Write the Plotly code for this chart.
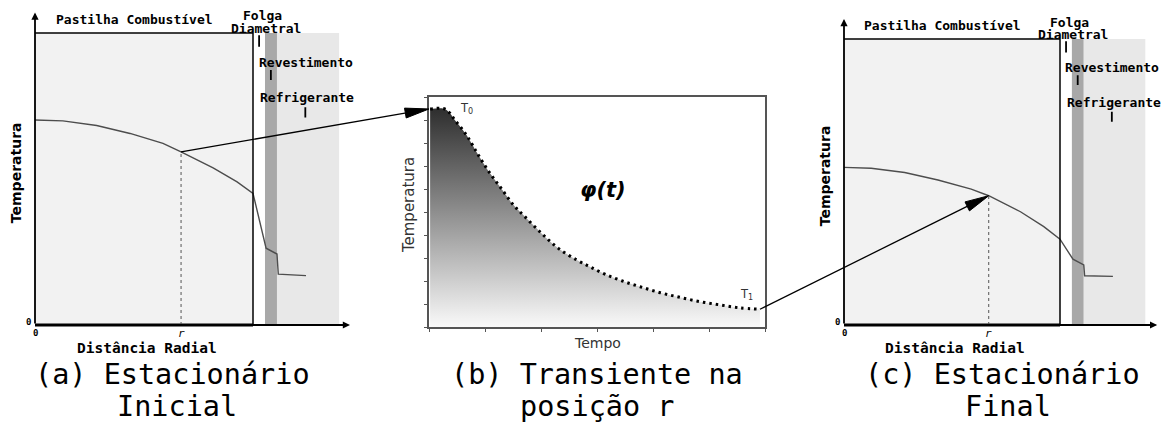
import math
import plotly.graph_objects as go

W, H = 1165, 429

# ---------------------------------------------------------------------------
# Data
# ---------------------------------------------------------------------------
# Radial layout of the fuel rod (arbitrary units, pellet radius = 10)
R_FUEL = 10.0
R_GAP = 10.55
R_CLAD = 11.1
R_COOL = 13.95
R_PROBE = 6.7
REGION_TOP = 100.0

# Initial steady-state temperature profile
radius_init = [0.0, 1.28, 2.83, 4.36, 5.87, 6.7, 8.17, 9.27, 10.0, 10.6, 11.1, 11.16, 12.43]
temp_init = [70.2, 69.9, 68.3, 65.6, 62.2, 59.3, 53.8, 49.0, 45.1, 26.3, 24.3, 17.4, 16.9]

# Final steady-state temperature profile
radius_final = [0.0, 1.26, 2.81, 4.35, 5.89, 6.7, 8.17, 9.25, 10.0, 10.6, 11.1, 11.14, 12.45]
temp_final = [55.1, 54.8, 53.3, 50.7, 47.5, 45.2, 39.6, 34.4, 30.0, 23.0, 21.0, 17.2, 17.0]

# Transient phi(t) at radial position r
time_tr = [0.02, 0.2, 0.29, 0.375, 0.46, 0.58, 0.70, 0.88, 1.09, 1.30, 1.51, 1.71,
           2.01, 2.31, 2.64, 2.88, 3.14, 3.44, 3.77, 4.13, 4.48, 4.84, 5.20, 5.55, 5.91]
temp_tr = [9.48, 9.51, 9.47, 9.29, 9.0, 8.64, 8.23, 7.48, 6.68, 5.99, 5.30, 4.80,
           4.07, 3.42, 2.91, 2.61, 2.30, 2.01, 1.75, 1.49, 1.29, 1.10, 0.96, 0.83, 0.77]

# Region labels and their marker ticks
region_labels = ["Pastilha Combustível", "Folga", "Diametral", "Revestimento", "Refrigerante"]
region_label_x = [4.55, 10.45, 10.6, 12.43, 12.48]
region_label_y = [104.6, 105.9, 101.7, 89.9, 77.8]
marker_x = [10.28, 10.82, 12.4]
marker_y0 = [95.3, 83.9, 71.1]
marker_y1 = [99.2, 87.3, 74.6]

captions = [["(a) Estacionário", "Inicial"],
            ["(b) Transiente na", "posição r"],
            ["(c) Estacionário", "Final"]]

# ---------------------------------------------------------------------------
# Panel geometry: origin pixel, pixels per unit, axis ranges
# ---------------------------------------------------------------------------
PANEL_A = dict(ox=35, oy=325, sx=21.8, sy=2.92, xr=(-0.4, 14.45), yr=(-3, 107))
PANEL_B = dict(ox=429, oy=327, sx=56.0, sy=23.0, xr=(0, 6), yr=(0, 10))
PANEL_C = dict(ox=844, oy=325, sx=21.6, sy=2.86, xr=(-0.4, 14.5), yr=(-3, 107))


def domains(p):
    x0 = p["ox"] + p["xr"][0] * p["sx"]
    x1 = p["ox"] + p["xr"][1] * p["sx"]
    yb = p["oy"] - p["yr"][0] * p["sy"]
    yt = p["oy"] - p["yr"][1] * p["sy"]
    return [x0 / W, x1 / W], [1 - yb / H, 1 - yt / H]


def to_px(p, x, y):
    return p["ox"] + x * p["sx"], p["oy"] - y * p["sy"]


def value_at(xs, ys, x):
    for i in range(len(xs) - 1):
        if xs[i] <= x <= xs[i + 1]:
            t = (x - xs[i]) / (xs[i + 1] - xs[i])
            return ys[i] + t * (ys[i + 1] - ys[i])
    return ys[-1]


fig = go.Figure()
shapes = []
annotations = []

MONO = "DejaVu Sans Mono"
SANS = "DejaVu Sans"


def steady_panel(ax_id, panel, radius, temp):
    xa = "x" if ax_id == 1 else f"x{ax_id}"
    ya = "y" if ax_id == 1 else f"y{ax_id}"

    def rect(x0, x1, color):
        shapes.append(dict(type="rect", xref=xa, yref=ya, x0=x0, x1=x1, y0=0, y1=REGION_TOP,
                           fillcolor=color, line=dict(width=0), layer="below"))

    def seg(x0, y0, x1, y1, width, color="black", dash="solid"):
        shapes.append(dict(type="line", xref=xa, yref=ya, x0=x0, y0=y0, x1=x1, y1=y1,
                           line=dict(color=color, width=width, dash=dash)))

    rect(0, R_FUEL, "#f2f2f2")
    rect(R_GAP, R_CLAD, "#a8a8a8")
    rect(R_CLAD, R_COOL, "#e8e8e8")
    seg(0, REGION_TOP, R_FUEL, REGION_TOP, 1.5)
    seg(R_FUEL, 0, R_FUEL, REGION_TOP, 1.5)
    seg(0, 0, R_FUEL, 0, 3)

    t_probe = value_at(radius, temp, R_PROBE)
    seg(R_PROBE, 0, R_PROBE, t_probe, 1, color="#555555", dash="dot")

    for mx, m0, m1 in zip(marker_x, marker_y0, marker_y1):
        seg(mx, m0, mx, m1, 1.8)

    fig.add_trace(go.Scatter(x=radius, y=temp, mode="lines", xaxis=xa, yaxis=ya,
                             line=dict(color="#4d4d4d", width=1.4), hoverinfo="skip"))

    # axis arrows
    for (hx, hy) in [(panel["xr"][1], 0), (0, panel["yr"][1])]:
        annotations.append(dict(xref=xa, yref=ya, axref=xa, ayref=ya, x=hx, y=hy, ax=0, ay=0,
                                text="", showarrow=True, arrowhead=2, arrowsize=0.8,
                                arrowwidth=1.8, arrowcolor="black"))

    for txt, lx, ly in zip(region_labels, region_label_x, region_label_y):
        annotations.append(dict(xref=xa, yref=ya, x=lx, y=ly, text=f"<b>{txt}</b>",
                                showarrow=False, xanchor="center", yanchor="middle",
                                font=dict(family=MONO, size=13, color="black")))

    annotations.append(dict(xref=xa, yref=ya, x=5.14, y=0, yshift=-23,
                            text="<b>Distância Radial</b>", showarrow=False,
                            font=dict(family=MONO, size=14.5, color="black")))
    annotations.append(dict(xref=xa, yref=ya, x=0, y=52, xshift=-19,
                            text="<b>Temperatura</b>", textangle=-90, showarrow=False,
                            font=dict(family=SANS, size=14, color="black")))
    annotations.append(dict(xref=xa, yref=ya, x=R_PROBE, y=0, yshift=-8,
                            text="<i>r</i>", showarrow=False,
                            font=dict(family=MONO, size=11, color="black")))
    annotations.append(dict(xref=xa, yref=ya, x=0, y=0, xshift=-7, yshift=3,
                            text="<b>0</b>", showarrow=False,
                            font=dict(family=MONO, size=9, color="black")))
    annotations.append(dict(xref=xa, yref=ya, x=0, y=0, xshift=0, yshift=-8,
                            text="<b>0</b>", showarrow=False,
                            font=dict(family=MONO, size=9, color="black")))


steady_panel(1, PANEL_A, radius_init, temp_init)
steady_panel(3, PANEL_C, radius_final, temp_final)

# Transient panel
fig.add_trace(go.Scatter(
    x=time_tr, y=temp_tr, mode="lines", xaxis="x2", yaxis="y2",
    line=dict(color="black", width=3, dash="2.5px,4px", shape="spline"),
    fill="tozeroy",
    fillgradient=dict(type="vertical", colorscale=[[0, "#f9f9f9"], [1, "#2e2e2e"]],
                      start=0, stop=9.5),
    hoverinfo="skip"))

annotations += [
    dict(xref="x2", yref="y2", x=0.52, y=9.5, text="T<sub>0</sub>", showarrow=False,
         xanchor="left", yanchor="middle", font=dict(family=SANS, size=11.5, color="#333")),
    dict(xref="x2", yref="y2", x=5.52, y=1.4, text="T<sub>1</sub>", showarrow=False,
         xanchor="left", yanchor="middle", font=dict(family=SANS, size=11.5, color="#333")),
    dict(xref="x2", yref="y2", x=3.11, y=5.96, text="<b><i>φ(t)</i></b>", showarrow=False,
         font=dict(family=SANS, size=21, color="black")),
    dict(xref="x2", yref="y2", x=3.0, y=0, yshift=-16, text="Tempo", showarrow=False,
         font=dict(family=SANS, size=14, color="#333")),
    dict(xref="x2", yref="y2", x=0, y=5.3, xshift=-20, text="Temperatura", textangle=-90,
         showarrow=False, font=dict(family=SANS, size=15, color="#333")),
]

# Captions
caption_x = [[172, 177], [597, 597], [1002, 1008]]
caption_y = [374, 406]
for lines, xs in zip(captions, caption_x):
    for txt, cx, cy in zip(lines, xs, caption_y):
        annotations.append(dict(xref="paper", yref="paper", x=cx / W, y=1 - cy / H,
                                text=txt, showarrow=False, xanchor="center", yanchor="middle",
                                font=dict(family=MONO, size=28.5, color="black")))


# Connecting arrows between panels (overlay axes in figure pixels)
def arrow(tail, head, length=24, half=5):
    tx, ty = tail
    hx, hy = head
    d = math.hypot(hx - tx, hy - ty)
    ux, uy = (hx - tx) / d, (hy - ty) / d
    bx, by = hx - length * ux, hy - length * uy
    nx, ny = -uy, ux
    fig.add_trace(go.Scatter(x=[tx, bx + ux], y=[ty, by + uy], mode="lines",
                             xaxis="x4", yaxis="y4", line=dict(color="black", width=1.3),
                             hoverinfo="skip"))
    fig.add_trace(go.Scatter(x=[hx, bx + half * nx, bx - half * nx, hx],
                             y=[hy, by + half * ny, by - half * ny, hy],
                             mode="lines", fill="toself", fillcolor="black",
                             xaxis="x4", yaxis="y4", line=dict(color="black", width=1),
                             hoverinfo="skip"))


arrow(to_px(PANEL_A, R_PROBE, value_at(radius_init, temp_init, R_PROBE)),
      to_px(PANEL_B, 0, temp_tr[0]))
arrow(to_px(PANEL_B, time_tr[-1], temp_tr[-1]),
      to_px(PANEL_C, R_PROBE, value_at(radius_final, temp_final, R_PROBE)))

dxa, dya = domains(PANEL_A)
dxb, dyb = domains(PANEL_B)
dxc, dyc = domains(PANEL_C)

hidden = dict(visible=False, showgrid=False, zeroline=False)
frame = dict(showline=True, mirror=True, linecolor="#555555", linewidth=1.5,
             ticks="outside", ticklen=3, tickwidth=1, tickcolor="#555555",
             dtick=1, tick0=0, showticklabels=False, showgrid=False, zeroline=False)

fig.update_layout(
    width=W, height=H,
    margin=dict(l=0, r=0, t=0, b=0),
    paper_bgcolor="white", plot_bgcolor="rgba(0,0,0,0)",
    showlegend=False,
    xaxis=dict(domain=dxa, range=list(PANEL_A["xr"]), anchor="y", **hidden),
    yaxis=dict(domain=dya, range=list(PANEL_A["yr"]), anchor="x", **hidden),
    xaxis2=dict(domain=dxb, range=list(PANEL_B["xr"]), anchor="y2", **frame),
    yaxis2=dict(domain=dyb, range=list(PANEL_B["yr"]), anchor="x2", **frame),
    xaxis3=dict(domain=dxc, range=list(PANEL_C["xr"]), anchor="y3", **hidden),
    yaxis3=dict(domain=dyc, range=list(PANEL_C["yr"]), anchor="x3", **hidden),
    xaxis4=dict(domain=[0, 1], range=[0, W], anchor="y4", **hidden),
    yaxis4=dict(domain=[0, 1], range=[H, 0], anchor="x4", **hidden),
    shapes=shapes,
    annotations=annotations,
)

fig.write_html("out.html")
